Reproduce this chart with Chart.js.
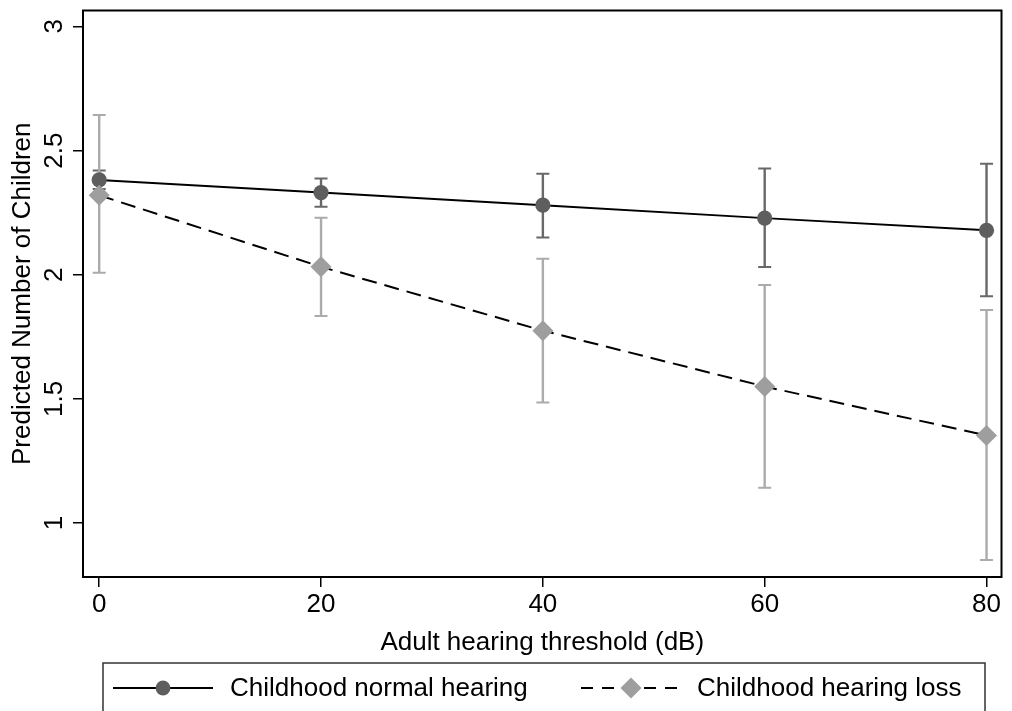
<!DOCTYPE html>
<html>
<head>
<meta charset="utf-8">
<script src="https://cdn.jsdelivr.net/npm/chart.js@4.4.0/dist/chart.umd.min.js"></script>
<style>
  html, body { margin: 0; padding: 0; background: #fff; }
  #wrap { width: 1012px; height: 711px; }
</style>
</head>
<body>
<div id="wrap"><canvas id="hearingChart" width="1012" height="711"></canvas></div>
<script>
// data
const thresholds = [0, 20, 40, 60, 80];
const normalHearing = [2.382, 2.331, 2.280, 2.228, 2.179];
const normalLow = [2.345, 2.274, 2.150, 2.031, 1.913];
const normalHigh = [2.420, 2.388, 2.407, 2.428, 2.447];
const hearingLoss = [2.320, 2.032, 1.775, 1.550, 1.353];
const lossLow = [2.008, 1.834, 1.486, 1.142, 0.851];
const lossHigh = [2.643, 2.230, 2.064, 1.959, 1.858];
const xTicks = [0, 20, 40, 60, 80];
const yTicks = [1, 1.5, 2, 2.5, 3];

const FONT = 'Liberation Sans, Arial, sans-serif';
const normalColor = '#5e5e5e';
const normalCiColor = '#686868';
const lossColor = '#9e9e9e';
const lossCiColor = '#ababab';

function toPoints(ys) {
  return thresholds.map((x, i) => ({ x: x, y: ys[i] }));
}

// confidence interval caps, drawn under the lines
const errorBars = {
  id: 'errorBars',
  beforeDatasetsDraw(chart) {
    const { ctx, scales: { x, y } } = chart;
    const groups = [
      { lo: normalLow, hi: normalHigh, color: normalCiColor },
      { lo: lossLow, hi: lossHigh, color: lossCiColor }
    ];
    ctx.save();
    groups.forEach(g => {
      ctx.strokeStyle = g.color;
      thresholds.forEach((t, i) => {
        const px = x.getPixelForValue(t);
        const top = y.getPixelForValue(g.hi[i]);
        const bot = y.getPixelForValue(g.lo[i]);
        ctx.lineWidth = 2.4;
        ctx.beginPath();
        ctx.moveTo(px, top);
        ctx.lineTo(px, bot);
        ctx.stroke();
        ctx.lineWidth = 2;
        ctx.beginPath();
        ctx.moveTo(px - 6.5, top);
        ctx.lineTo(px + 6.5, top);
        ctx.moveTo(px - 6.5, bot);
        ctx.lineTo(px + 6.5, bot);
        ctx.stroke();
      });
    });
    ctx.restore();
  }
};

// plot frame, rotated y tick labels, legend box
const frameAndLegend = {
  id: 'frameAndLegend',
  afterDraw(chart) {
    const { ctx, chartArea: a, scales: { y } } = chart;
    ctx.save();
    ctx.strokeStyle = '#000';
    ctx.lineWidth = 2;
    ctx.strokeRect(a.left, a.top, a.right - a.left, a.bottom - a.top);

    // y tick labels read bottom to top
    ctx.fillStyle = '#000';
    ctx.font = '26px ' + FONT;
    ctx.textAlign = 'center';
    ctx.textBaseline = 'alphabetic';
    y.ticks.forEach(t => {
      const py = y.getPixelForValue(t.value);
      ctx.save();
      ctx.translate(62, py);
      ctx.rotate(-Math.PI / 2);
      ctx.fillText(String(t.value), 0, 0);
      ctx.restore();
    });

    // legend
    ctx.strokeStyle = '#333';
    ctx.lineWidth = 1.5;
    ctx.strokeRect(103, 663, 882, 60);
    const ly = 688;
    ctx.strokeStyle = '#000';
    ctx.lineWidth = 2;
    ctx.beginPath();
    ctx.moveTo(113, ly);
    ctx.lineTo(213, ly);
    ctx.stroke();
    ctx.fillStyle = normalColor;
    ctx.beginPath();
    ctx.arc(163, ly, 7.4, 0, Math.PI * 2);
    ctx.fill();

    ctx.setLineDash([12, 9]);
    ctx.beginPath();
    ctx.moveTo(581, ly);
    ctx.lineTo(679, ly);
    ctx.stroke();
    ctx.setLineDash([]);
    ctx.fillStyle = lossColor;
    ctx.beginPath();
    ctx.moveTo(631 - 10.5, ly);
    ctx.lineTo(631, ly - 10.5);
    ctx.lineTo(631 + 10.5, ly);
    ctx.lineTo(631, ly + 10.5);
    ctx.closePath();
    ctx.fill();

    ctx.fillStyle = '#000';
    ctx.font = '26px ' + FONT;
    ctx.textAlign = 'left';
    ctx.textBaseline = 'middle';
    ctx.fillText('Childhood normal hearing', 230, ly + 1);
    ctx.fillText('Childhood hearing loss', 697, ly + 1);
    ctx.restore();
  }
};

new Chart(document.getElementById('hearingChart').getContext('2d'), {
  type: 'line',
  data: {
    datasets: [{
      label: 'Childhood normal hearing',
      data: toPoints(normalHearing),
      borderColor: '#000',
      borderWidth: 2,
      pointStyle: 'circle',
      pointRadius: 7.6,
      pointBackgroundColor: normalColor,
      pointBorderWidth: 0,
      order: 1
    }, {
      label: 'Childhood hearing loss',
      data: toPoints(hearingLoss),
      borderColor: '#000',
      borderWidth: 2,
      borderDash: [15, 8],
      pointStyle: 'rectRot',
      pointRadius: 10.5,
      pointBackgroundColor: lossColor,
      pointBorderWidth: 0,
      order: 0
    }]
  },
  options: {
    responsive: false,
    animation: false,
    layout: { padding: { left: 0, right: 7, top: 9, bottom: 53 } },
    scales: {
      x: {
        type: 'linear',
        min: -1.46,
        max: 81.35,
        afterBuildTicks: s => { s.ticks = xTicks.map(v => ({ value: v })); },
        afterFit: s => { s.height = 81; },
        border: { display: false },
        grid: { drawOnChartArea: false, drawTicks: true, tickLength: 10, color: '#000', lineWidth: 1.5 },
        ticks: { color: '#000', padding: 2, maxRotation: 0, font: { family: FONT, size: 26 } },
        title: {
          display: true,
          text: 'Adult hearing threshold (dB)',
          color: '#000',
          padding: 0,
          font: { family: FONT, size: 26 }
        }
      },
      y: {
        type: 'linear',
        min: 0.783,
        max: 3.064,
        afterBuildTicks: s => { s.ticks = yTicks.map(v => ({ value: v })); },
        afterFit: s => { s.width = 83; },
        border: { display: false },
        grid: { drawOnChartArea: false, drawTicks: true, tickLength: 10, color: '#000', lineWidth: 1.5 },
        ticks: { display: false },
        title: {
          display: true,
          text: 'Predicted Number of Children',
          color: '#000',
          padding: { top: 7, bottom: 0 },
          font: { family: FONT, size: 26 }
        }
      }
    },
    plugins: {
      legend: { display: false },
      tooltip: { enabled: false }
    }
  },
  plugins: [errorBars, frameAndLegend]
});
</script>
</body>
</html>
